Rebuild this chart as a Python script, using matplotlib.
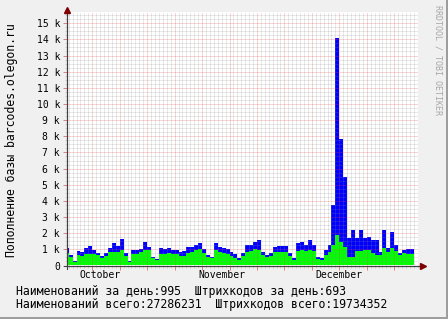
import numpy as np
import pandas as pd
import matplotlib
matplotlib.use('Agg')
import matplotlib.pyplot as plt
import matplotlib.dates as mdates
from matplotlib.ticker import MultipleLocator, FuncFormatter, NullFormatter
from matplotlib.patches import Rectangle

# ---------------- data ----------------
first_day = '2008-09-22'
view_start = '2008-09-22 13:30'
view_end = '2008-12-21 01:30'

names_per_day = [
    1070, 680, 300, 920, 820, 1070, 1200, 950, 750, 600,
    750, 1070, 1400, 1220, 1670, 750, 300, 950, 950, 1000,
    1430, 1170, 550, 400, 1070, 1000, 1070, 950, 950, 850,
    900, 1170, 1170, 1270, 1370, 1000, 650, 550, 1370, 1170,
    1100, 1000, 850, 700, 450, 800, 1270, 1270, 1470, 1570,
    850, 650, 750, 1170, 1220, 1220, 1220, 750, 450, 1380,
    1440, 1260, 1580, 1260, 550, 440, 960, 1270, 3760, 14100,
    7850, 5500, 1690, 2200, 1690, 2200, 1690, 1790, 1580, 1580,
    860, 2200, 1060, 2100, 1270, 780, 960, 1030, 995,
]
barcodes_per_day = [
    790, 550, 220, 640, 580, 700, 720, 720, 640, 480,
    580, 820, 850, 820, 970, 580, 220, 700, 700, 850,
    930, 930, 480, 350, 700, 700, 750, 700, 700, 580,
    600, 750, 820, 950, 1050, 750, 520, 450, 950, 850,
    800, 700, 580, 480, 330, 580, 850, 900, 1050, 970,
    670, 520, 580, 820, 850, 850, 850, 580, 350, 920,
    950, 920, 950, 900, 400, 340, 650, 850, 1270, 1900,
    1480, 1170, 550, 550, 900, 900, 950, 950, 760, 650,
    650, 1060, 860, 1060, 900, 650, 800, 730, 693,
]
month_labels = ['October', 'November', 'December']
y_label = 'Пополнение базы barcodes.olegon.ru'
legend_lines = [
    'Наименований за день:995  Штрихкодов за день:693',
    'Наименований всего:27286231  Штрихкодов всего:19734352',
]
watermark = 'RRDTOOL / TOBI OETIKER'
y_max = 15700

# ---------------- style ----------------
mono = 'DejaVu Sans Mono'
plt.rcParams['font.family'] = [mono]

W, H = 448, 319
fig = plt.figure(figsize=(W / 100, H / 100), dpi=100, facecolor='#f0f0f0')

left_px, right_px, top_px, bottom_px = 67, 418, 11.9, 265.5
ax = fig.add_axes([left_px / W, 1 - bottom_px / H,
                   (right_px - left_px) / W, (bottom_px - top_px) / H])
ax.set_facecolor('white')

days = pd.date_range(first_day, periods=len(names_per_day) + 1, freq='D')
xd = mdates.date2num(days.to_pydatetime())
blue = np.append(names_per_day, names_per_day[-1])
green = np.append(barcodes_per_day, barcodes_per_day[-1])

ax.fill_between(xd, 0, blue, step='post', color='#0000ff', lw=0, zorder=1)
ax.fill_between(xd, 0, green, step='post', color='#00ff00', lw=0, zorder=1.1)

ax.set_xlim(mdates.date2num(pd.Timestamp(view_start).to_pydatetime()),
            mdates.date2num(pd.Timestamp(view_end).to_pydatetime()))
ax.set_ylim(0, y_max)

# grid
ax.xaxis.set_major_locator(mdates.WeekdayLocator(byweekday=mdates.MO))
ax.xaxis.set_minor_locator(mdates.DayLocator())
ax.xaxis.set_major_formatter(NullFormatter())
ax.yaxis.set_major_locator(MultipleLocator(1000))
ax.yaxis.set_minor_locator(MultipleLocator(250))
ax.yaxis.set_major_formatter(FuncFormatter(lambda v, p: '0' if v == 0 else f'{int(round(v / 1000))} k'))

ax.set_axisbelow(False)
ax.grid(which='minor', color='#8c8c8c', alpha=0.4, linestyle=(0, (1, 1)), lw=0.72)
ax.grid(which='major', color='#e04848', alpha=0.45, linestyle=(0, (1, 1)), lw=0.72)

ax.tick_params(axis='both', which='major', length=3, width=0.72, color='#e08080',
               labelsize=7, pad=2)
ax.tick_params(axis='both', which='minor', length=1.5, width=0.72, color='#d0d0d0')

for s in ['top', 'right']:
    ax.spines[s].set_visible(False)
for s in ['left', 'bottom']:
    ax.spines[s].set_color('#404040')
    ax.spines[s].set_linewidth(0.8)
    ax.spines[s].set_zorder(5)

# axis extensions and arrows
ax.plot([-3 / 351, 1.0 + 5 / 351], [0, 0], transform=ax.transAxes, color='#404040',
        lw=0.8, clip_on=False, zorder=5)
ax.plot([1.0 + 5 / 351], [0], transform=ax.transAxes, marker='>', color='#7f0000',
        markersize=4, clip_on=False, zorder=6, lw=0)
ax.plot([0, 0], [-3 / 253, 1.0 + 2 / 253], transform=ax.transAxes, color='#404040',
        lw=0.8, clip_on=False, zorder=5)
ax.plot([0], [1.0 + 2 / 253], transform=ax.transAxes, marker='^', color='#7f0000',
        markersize=4, clip_on=False, zorder=6, lw=0)

# month labels
months = pd.date_range('2008-10-01', periods=len(month_labels), freq='MS')
for m, lab in zip(months, month_labels):
    ax.text(mdates.date2num(m.to_pydatetime()), -9.5 / 253, lab, transform=ax.get_xaxis_transform(),
            ha='center', va='center', fontsize=7)

# y label
fig.text(11.5 / W, 1 - 140 / H, y_label, rotation=90, ha='center', va='center', fontsize=8.3)

# legend texts
fig.text(16 / W, 1 - 291.7 / H, legend_lines[0], ha='left', va='center', fontsize=8.3)
fig.text(16 / W, 1 - 304.3 / H, legend_lines[1], ha='left', va='center', fontsize=8.3)

# watermark
fig.text(438 / W, 1 - 60 / H, watermark, rotation=270, ha='center', va='center',
         fontsize=6, color='#a8a8a8')

# frame shading
fig.add_artist(Rectangle((1 - 2 / W, 0), 2 / W, 1, transform=fig.transFigure,
                         color='#9e9e9e', lw=0))
fig.add_artist(Rectangle((0, 0), 1, 2 / H, transform=fig.transFigure,
                         color='#9e9e9e', lw=0))

fig.savefig('out.png', dpi=100, facecolor=fig.get_facecolor())
